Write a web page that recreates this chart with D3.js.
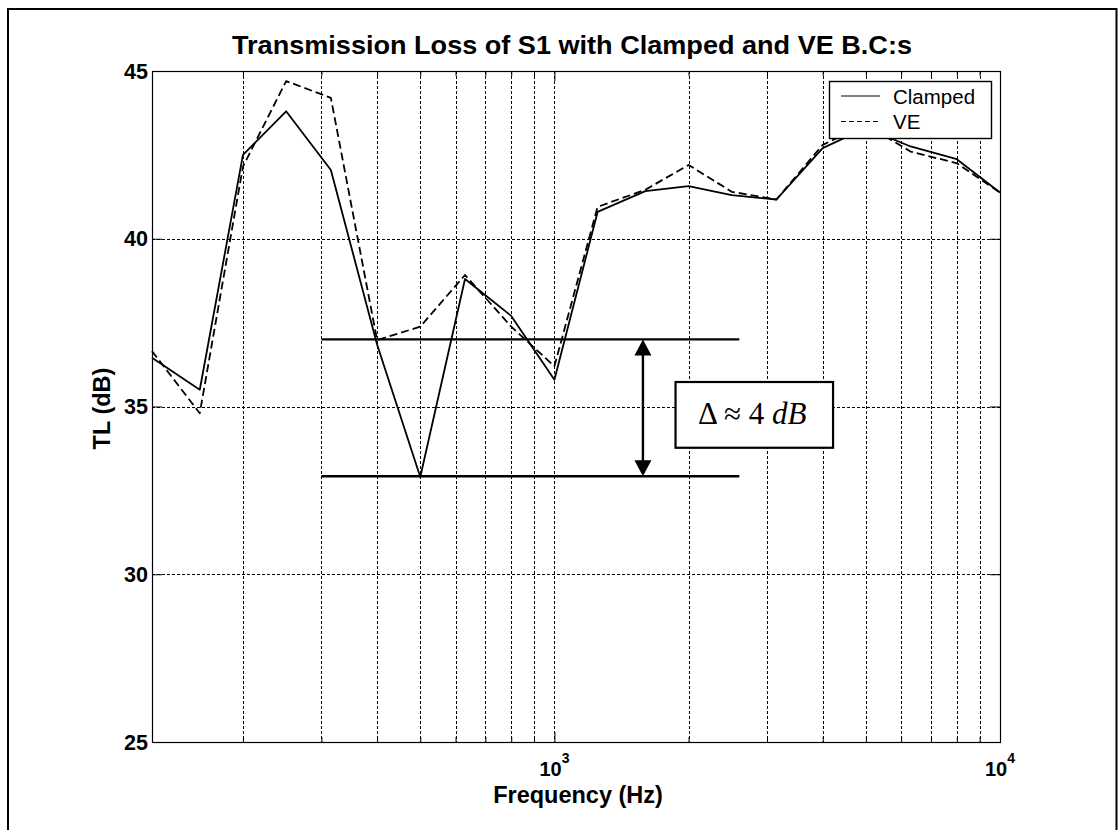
<!DOCTYPE html>
<html>
<head>
<meta charset="utf-8">
<script src="https://cdn.jsdelivr.net/npm/d3@7"></script>
<style>
  html, body { margin: 0; padding: 0; background: #fff; }
  svg { display: block; }
  text { font-family: Arial, "Liberation Sans", Helvetica, sans-serif; fill: #000; }
</style>
</head>
<body>
<svg id="chart" width="1119" height="830"></svg>
<script>
// One-third octave band centre frequencies (Hz)
const freqs = [125, 160, 200, 250, 315, 400, 500, 630, 800, 1000,
               1250, 1600, 2000, 2500, 3150, 4000, 5000, 6300, 8000, 10000];
// Transmission loss (dB) for the two boundary conditions
const clamped = [36.45, 35.5, 42.5, 43.8, 42.05, 36.85, 32.9, 38.8, 37.7, 35.8,
                 40.8, 41.42, 41.57, 41.3, 41.17, 42.7, 43.3, 42.75, 42.37, 41.38];
const ve      = [36.65, 34.8, 42.15, 44.7, 44.2, 36.98, 37.38, 38.92, 37.38, 36.2,
                 40.95, 41.46, 42.2, 41.4, 41.17, 42.8, 43.4, 42.6, 42.25, 41.38];
const seriesNames = ["Clamped", "VE"];

// Axis ticks
const yTicks = [25, 30, 35, 40, 45];
const xMajorTicks = [1000, 10000];
const xMajorLabels = [["10", "3"], ["10", "4"]];
const xGridTicks = [200, 300, 400, 500, 600, 700, 800, 900, 1000,
                    2000, 3000, 4000, 5000, 6000, 7000, 8000, 9000];
const yGridTicks = [30, 35, 40];

// Delta annotation (dB levels, frequency span)
const deltaLevels = [37.0, 32.92];
const deltaSpan = [300, 2600];
const deltaArrowFreq = 1580;
const deltaBox = { f: [1870, 4220], db: [33.77, 35.73] };

const svg = d3.select("#chart");
const L = 152, R = 1000, T = 71, B = 742;

const x = d3.scaleLog().domain([125, 10000]).range([L, R]);
const y = d3.scaleLinear().domain([25, 45]).range([B, T]);

// Figure frame
svg.append("rect")
  .attr("x", 8).attr("y", 9).attr("width", 1108.5).attr("height", 840)
  .attr("fill", "none").attr("stroke", "#000").attr("stroke-width", 2);

// Grid
const grid = svg.append("g").attr("stroke", "#000").attr("stroke-width", 1)
  .attr("stroke-dasharray", "3,2").attr("fill", "none");
grid.selectAll("line.v").data(xGridTicks).join("line")
  .attr("class", "v")
  .attr("x1", d => Math.round(x(d)) + 0.5).attr("x2", d => Math.round(x(d)) + 0.5)
  .attr("y1", T).attr("y2", B);
grid.selectAll("line.h").data(yGridTicks).join("line")
  .attr("class", "h")
  .attr("x1", L).attr("x2", R)
  .attr("y1", d => Math.round(y(d)) + 0.5).attr("y2", d => Math.round(y(d)) + 0.5);

// Axes (ticks pointing inward, MATLAB style)
const minorTicks = xGridTicks.filter(d => xMajorTicks.indexOf(d) < 0);
const axB = svg.append("g").attr("transform", `translate(0,${B})`)
  .call(d3.axisBottom(x).tickValues(xMajorTicks).tickFormat("").tickSizeInner(-10).tickSizeOuter(0));
const axBm = svg.append("g").attr("transform", `translate(0,${B})`)
  .call(d3.axisBottom(x).tickValues(minorTicks).tickFormat("").tickSizeInner(-5).tickSizeOuter(0));
const axT = svg.append("g").attr("transform", `translate(0,${T})`)
  .call(d3.axisTop(x).tickValues(xMajorTicks).tickFormat("").tickSizeInner(-10).tickSizeOuter(0));
const axTm = svg.append("g").attr("transform", `translate(0,${T})`)
  .call(d3.axisTop(x).tickValues(minorTicks).tickFormat("").tickSizeInner(-5).tickSizeOuter(0));
const axL = svg.append("g").attr("transform", `translate(${L},0)`)
  .call(d3.axisLeft(y).tickValues(yTicks).tickFormat("").tickSizeInner(-10).tickSizeOuter(0));
const axR = svg.append("g").attr("transform", `translate(${R},0)`)
  .call(d3.axisRight(y).tickValues(yTicks).tickFormat("").tickSizeInner(-10).tickSizeOuter(0));
[axB, axBm, axT, axTm, axL, axR].forEach(g => {
  g.select(".domain").remove();
  g.selectAll("line").attr("stroke", "#000");
});
svg.append("rect").attr("x", L + 0.5).attr("y", T + 0.5)
  .attr("width", R - L).attr("height", B - T)
  .attr("fill", "none").attr("stroke", "#000").attr("stroke-width", 1.2);

// Tick labels
svg.selectAll("text.ytick").data(yTicks).join("text")
  .attr("class", "ytick")
  .attr("x", L - 4).attr("y", d => y(d) + 7.5)
  .attr("text-anchor", "end")
  .attr("font-size", 21.5).attr("font-weight", "bold")
  .text(d => d);
const xl = svg.selectAll("text.xtick").data(xMajorTicks).join("text")
  .attr("class", "xtick")
  .attr("x", d => x(d) - 15).attr("y", 776)
  .attr("font-size", 20).attr("font-weight", "bold");
xl.append("tspan").text((d, i) => xMajorLabels[i][0]);
xl.append("tspan").attr("dy", -13).attr("font-size", 14).text((d, i) => xMajorLabels[i][1]);

// Titles
svg.append("text").attr("x", 572).attr("y", 54).attr("text-anchor", "middle")
  .attr("font-size", 25).attr("font-weight", "bold")
  .attr("textLength", 680).attr("lengthAdjust", "spacingAndGlyphs")
  .text("Transmission Loss of S1 with Clamped and VE B.C:s");
svg.append("text").attr("x", 578).attr("y", 803).attr("text-anchor", "middle")
  .attr("font-size", 23.5).attr("font-weight", "bold")
  .text("Frequency (Hz)");
svg.append("text")
  .attr("transform", `translate(110,${(T + B) / 2 + 2}) rotate(-90)`)
  .attr("text-anchor", "middle")
  .attr("font-size", 23.5).attr("font-weight", "bold")
  .text("TL (dB)");

// Data lines
const line = d3.line().x(d => x(d[0])).y(d => y(d[1]));
const seriesData = [clamped, ve].map(vals => freqs.map((f, i) => [f, vals[i]]));
const dashes = [null, "8,4"];
svg.selectAll("path.series").data(seriesData).join("path")
  .attr("class", "series")
  .attr("d", line)
  .attr("fill", "none").attr("stroke", "#000").attr("stroke-width", 1.8)
  .attr("stroke-linejoin", "round")
  .attr("stroke-dasharray", (d, i) => dashes[i]);

// Delta annotation
const ann = svg.append("g");
ann.selectAll("line.lvl").data(deltaLevels).join("line")
  .attr("class", "lvl")
  .attr("x1", x(deltaSpan[0])).attr("x2", x(deltaSpan[1]))
  .attr("y1", d => y(d)).attr("y2", d => y(d))
  .attr("stroke", "#000").attr("stroke-width", 2.4);
const ax0 = x(deltaArrowFreq), yTop = y(deltaLevels[0]), yBot = y(deltaLevels[1]);
const ah = 16, aw = 8.5;
ann.append("line").attr("x1", ax0).attr("x2", ax0)
  .attr("y1", yTop + ah - 2).attr("y2", yBot - ah + 2)
  .attr("stroke", "#000").attr("stroke-width", 2.4);
ann.append("path")
  .attr("d", `M${ax0},${yTop}L${ax0 - aw},${yTop + ah}L${ax0 + aw},${yTop + ah}Z`)
  .attr("fill", "#000");
ann.append("path")
  .attr("d", `M${ax0},${yBot}L${ax0 - aw},${yBot - ah}L${ax0 + aw},${yBot - ah}Z`)
  .attr("fill", "#000");
const bx0 = x(deltaBox.f[0]), bx1 = x(deltaBox.f[1]);
const by0 = y(deltaBox.db[1]), by1 = y(deltaBox.db[0]);
ann.append("rect").attr("x", bx0).attr("y", by0)
  .attr("width", bx1 - bx0).attr("height", by1 - by0)
  .attr("fill", "#fff").attr("stroke", "#000").attr("stroke-width", 2.2);
const dt = ann.append("text")
  .attr("x", (bx0 + bx1) / 2 - 2).attr("y", by0 + 42)
  .attr("text-anchor", "middle")
  .style("font-family", "'Times New Roman', 'Liberation Serif', serif")
  .attr("font-size", 31);
dt.append("tspan").text("\u0394 \u2248 4 ");
dt.append("tspan").attr("font-style", "italic").text("dB");

// Legend
const lg = svg.append("g");
lg.append("rect").attr("x", 829.5).attr("y", 81.5).attr("width", 162).attr("height", 57)
  .attr("fill", "#fff").attr("stroke", "#000").attr("stroke-width", 1.4);
const legendRows = lg.selectAll("g.row").data(seriesNames).join("g")
  .attr("class", "row")
  .attr("transform", (d, i) => `translate(0,${96 + i * 25.5})`);
legendRows.append("line").attr("x1", 841).attr("x2", 880).attr("y1", 0).attr("y2", 0)
  .attr("stroke", "#000").attr("stroke-width", 1.2)
  .attr("stroke-dasharray", (d, i) => i ? "5,3" : null);
legendRows.append("text").attr("x", 893).attr("y", 7.5)
  .attr("font-size", 20.5).text(d => d);
</script>
</body>
</html>
